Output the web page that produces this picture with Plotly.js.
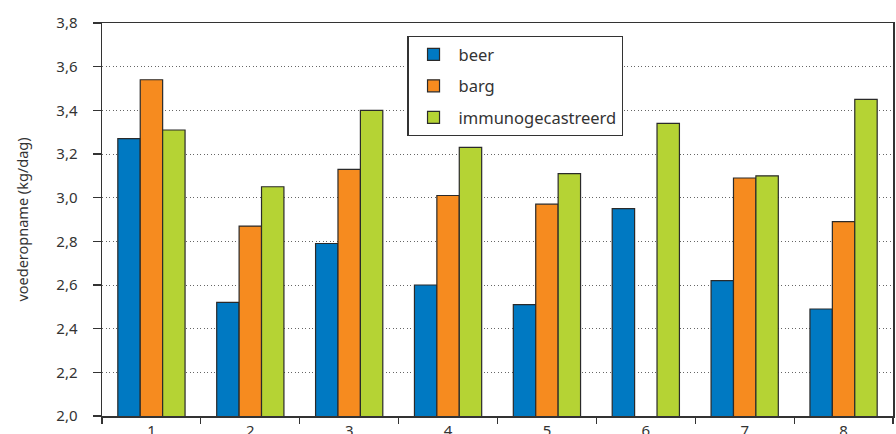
<!DOCTYPE html>
<html>
<head>
<meta charset="utf-8">
<script src="https://cdn.plot.ly/plotly-3.0.1.min.js"></script>
<style>
  html, body { margin: 0; padding: 0; background: #ffffff; }
  #chart { width: 896px; height: 434px; }
</style>
</head>
<body>
<div id="chart"></div>
<script>
// Voederopname per ronde voor drie groepen varkens
const categories = ['1', '2', '3', '4', '5', '6', '7', '8'];
const beer = [3.27, 2.52, 2.79, 2.60, 2.51, 2.95, 2.62, 2.49];
const barg = [3.54, 2.87, 3.13, 3.01, 2.97, null, 3.09, 2.89];
const immunogecastreerd = [3.31, 3.05, 3.40, 3.23, 3.11, 3.34, 3.10, 3.45];
const seriesNames = ['beer', 'barg', 'immunogecastreerd'];
const seriesColors = ['#0079c2', '#f68b1f', '#b5d334'];
const yTickVals = [2.0, 2.2, 2.4, 2.6, 2.8, 3.0, 3.2, 3.4, 3.6, 3.8];

const fontFamily = '"Noto Sans", "Open Sans", sans-serif';
const inkColor = '#333333';

const traces = [beer, barg, immunogecastreerd].map((values, i) => ({
  type: 'bar',
  name: seriesNames[i],
  legendgroup: seriesNames[i],
  x: categories,
  y: values,
  marker: { color: seriesColors[i], line: { color: '#2a2a2a', width: 1.2 } },
  hoverinfo: 'x+y+name'
}));

const layout = {
  width: 896,
  height: 434,
  margin: { l: 102, r: 3, t: 23, b: 18 },
  paper_bgcolor: '#ffffff',
  plot_bgcolor: '#ffffff',
  separators: ', ',
  font: { family: fontFamily, size: 14, color: inkColor },
  barmode: 'group',
  bargap: 0.32,
  bargroupgap: 0,
  showlegend: true,
  legend: {
    x: 0.386, y: 0.967, xanchor: 'left', yanchor: 'top',
    bgcolor: '#ffffff',
    bordercolor: '#333333',
    borderwidth: 1.2,
    font: { family: fontFamily, size: 16.5, color: inkColor },
    tracegroupgap: 7,
    traceorder: 'grouped',
    itemwidth: 40
  },
  xaxis: {
    type: 'category',
    categoryorder: 'array',
    categoryarray: categories,
    tickson: 'boundaries',
    ticks: 'outside',
    ticklen: 6,
    tickwidth: 1.2,
    tickcolor: '#333333',
    showline: true,
    linecolor: '#333333',
    linewidth: 1.5,
    mirror: true,
    showgrid: false,
    zeroline: false,
    tickfont: { family: fontFamily, size: 15, color: inkColor },
    fixedrange: true
  },
  yaxis: {
    range: [2.0, 3.8],
    tickvals: yTickVals,
    tickformat: '.1f',
    ticks: 'outside',
    ticklen: 8,
    tickwidth: 1.2,
    tickcolor: '#333333',
    ticklabelstandoff: 12,
    showline: true,
    linecolor: '#333333',
    linewidth: 1.5,
    mirror: true,
    showgrid: true,
    gridcolor: '#666666',
    gridwidth: 1,
    griddash: '1px,2.5px',
    zeroline: false,
    tickfont: { family: fontFamily, size: 15, color: inkColor },
    title: { text: 'voederopname (kg/dag)', font: { family: fontFamily, size: 14.5, color: inkColor }, standoff: 24 },
    fixedrange: true
  }
};

Plotly.newPlot('chart', traces, layout, { displayModeBar: false, staticPlot: true });
</script>
</body>
</html>
